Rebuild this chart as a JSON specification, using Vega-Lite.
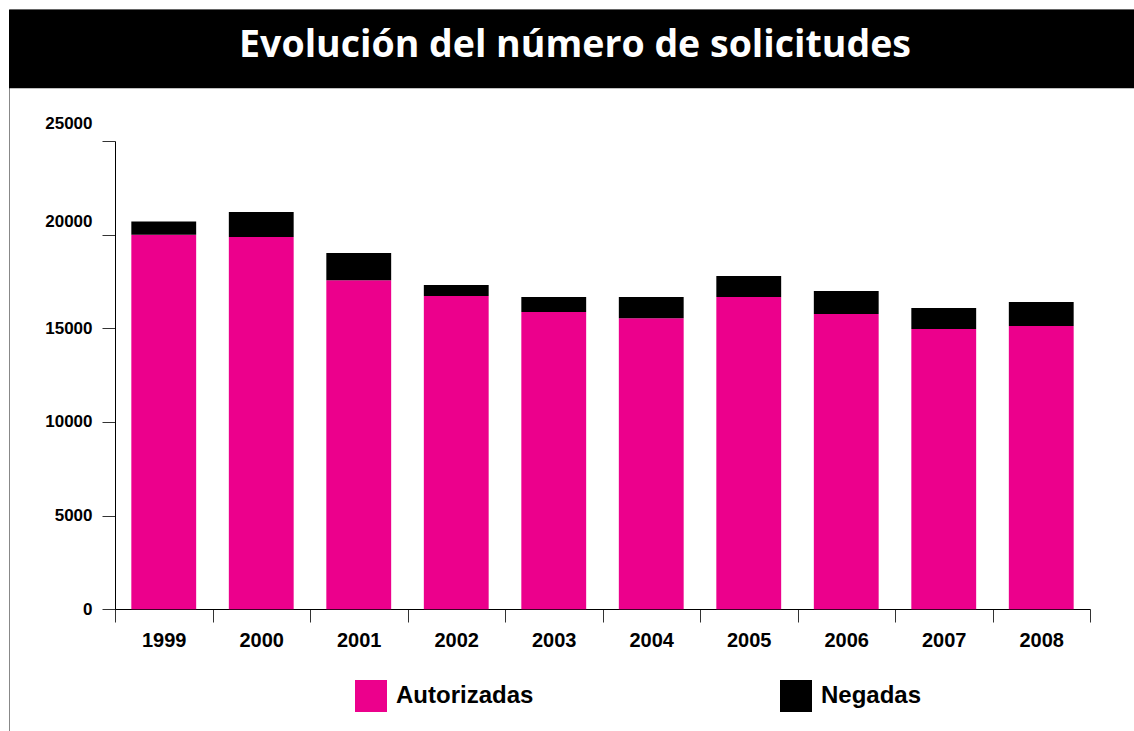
{
  "$schema": "https://vega.github.io/schema/vega-lite/v6.json",
  "width": 1132,
  "height": 731,
  "autosize": "none",
  "padding": {"left": 9, "top": 9, "right": 0, "bottom": 0},
  "background": "white",
  "config": {
    "view": {"stroke": "#888888", "strokeWidth": 1},
    "font": "Liberation Sans"
  },
  "layer": [
    {
      "data": {"values": [{}]},
      "mark": {"type": "rect", "color": "#000000"},
      "encoding": {
        "y": {"datum": 32010, "type": "quantitative"},
        "y2": {"datum": 27813}
      }
    },
    {
      "data": {"values": [{"t": "Evolución del número de solicitudes"}]},
      "mark": {"type": "text", "font": "Open Sans", "fontWeight": "bold", "fontSize": 37.5, "color": "#ffffff", "align": "center", "baseline": "alphabetic"},
      "encoding": {
        "y": {"datum": 29484, "type": "quantitative"},
        "text": {"field": "t", "type": "nominal"}
      }
    },
    {
      "data": {
        "values": [
          {"anio": "1999", "tipo": "Autorizadas", "valor": 20000},
          {"anio": "1999", "tipo": "Negadas", "valor": 700},
          {"anio": "2000", "tipo": "Autorizadas", "valor": 19870},
          {"anio": "2000", "tipo": "Negadas", "valor": 1340},
          {"anio": "2001", "tipo": "Autorizadas", "valor": 17570},
          {"anio": "2001", "tipo": "Negadas", "valor": 1450},
          {"anio": "2002", "tipo": "Autorizadas", "valor": 16720},
          {"anio": "2002", "tipo": "Negadas", "valor": 590},
          {"anio": "2003", "tipo": "Autorizadas", "valor": 15870},
          {"anio": "2003", "tipo": "Negadas", "valor": 800},
          {"anio": "2004", "tipo": "Autorizadas", "valor": 15540},
          {"anio": "2004", "tipo": "Negadas", "valor": 1130},
          {"anio": "2005", "tipo": "Autorizadas", "valor": 16670},
          {"anio": "2005", "tipo": "Negadas", "valor": 1120},
          {"anio": "2006", "tipo": "Autorizadas", "valor": 15760},
          {"anio": "2006", "tipo": "Negadas", "valor": 1230},
          {"anio": "2007", "tipo": "Autorizadas", "valor": 14960},
          {"anio": "2007", "tipo": "Negadas", "valor": 1120},
          {"anio": "2008", "tipo": "Autorizadas", "valor": 15120},
          {"anio": "2008", "tipo": "Negadas", "valor": 1280}
        ]
      },
      "mark": {"type": "bar", "width": {"band": 0.665}},
      "encoding": {
        "x": {
          "field": "anio",
          "type": "ordinal",
          "scale": {"range": [106, 1081], "paddingInner": 0, "paddingOuter": 0},
          "axis": {
            "title": null,
            "orient": "bottom",
            "offset": -131,
            "tickBand": "extent",
            "tickSize": 13,
            "tickColor": "#333333",
            "domainColor": "#000000",
            "labelFont": "Liberation Sans",
            "labelFontWeight": "bold",
            "labelFontSize": 20,
            "labelColor": "#000000",
            "labelPadding": 8,
            "labelAngle": 0
          }
        },
        "y": {
          "field": "valor",
          "type": "quantitative",
          "stack": "zero",
          "scale": {"domain": [0, 25000], "range": [600.3, 132], "nice": false, "zero": false},
          "axis": {
            "title": null,
            "orient": "left",
            "offset": -106,
            "values": [0, 5000, 10000, 15000, 20000, 25000],
            "format": "d",
            "grid": false,
            "tickSize": 13,
            "tickColor": "#333333",
            "domainColor": "#000000",
            "labelFont": "Liberation Sans",
            "labelFontWeight": "bold",
            "labelFontSize": 17,
            "labelColor": "#000000",
            "labelPadding": 10,
            "labelOffset": {"condition": [{"test": "datum.value == 25000", "value": -18}, {"test": "datum.value == 20000", "value": -13}], "value": 0}
          }
        },
        "color": {
          "field": "tipo",
          "type": "nominal",
          "scale": {"domain": ["Autorizadas", "Negadas"], "range": ["#EC008C", "#000000"]},
          "legend": {
            "title": null,
            "orient": "none",
            "legendX": 346,
            "legendY": 671,
            "direction": "horizontal",
            "symbolType": "square",
            "symbolSize": 1024,
            "symbolStrokeWidth": 0,
            "symbolOpacity": 1,
            "labelFont": "Liberation Sans",
            "labelFontWeight": "bold",
            "labelFontSize": 24,
            "labelColor": "#000000",
            "labelOffset": 9,
            "columnPadding": 246,
            "padding": 0
          }
        },
        "order": {"field": "tipo", "sort": "ascending"}
      }
    }
  ]
}
